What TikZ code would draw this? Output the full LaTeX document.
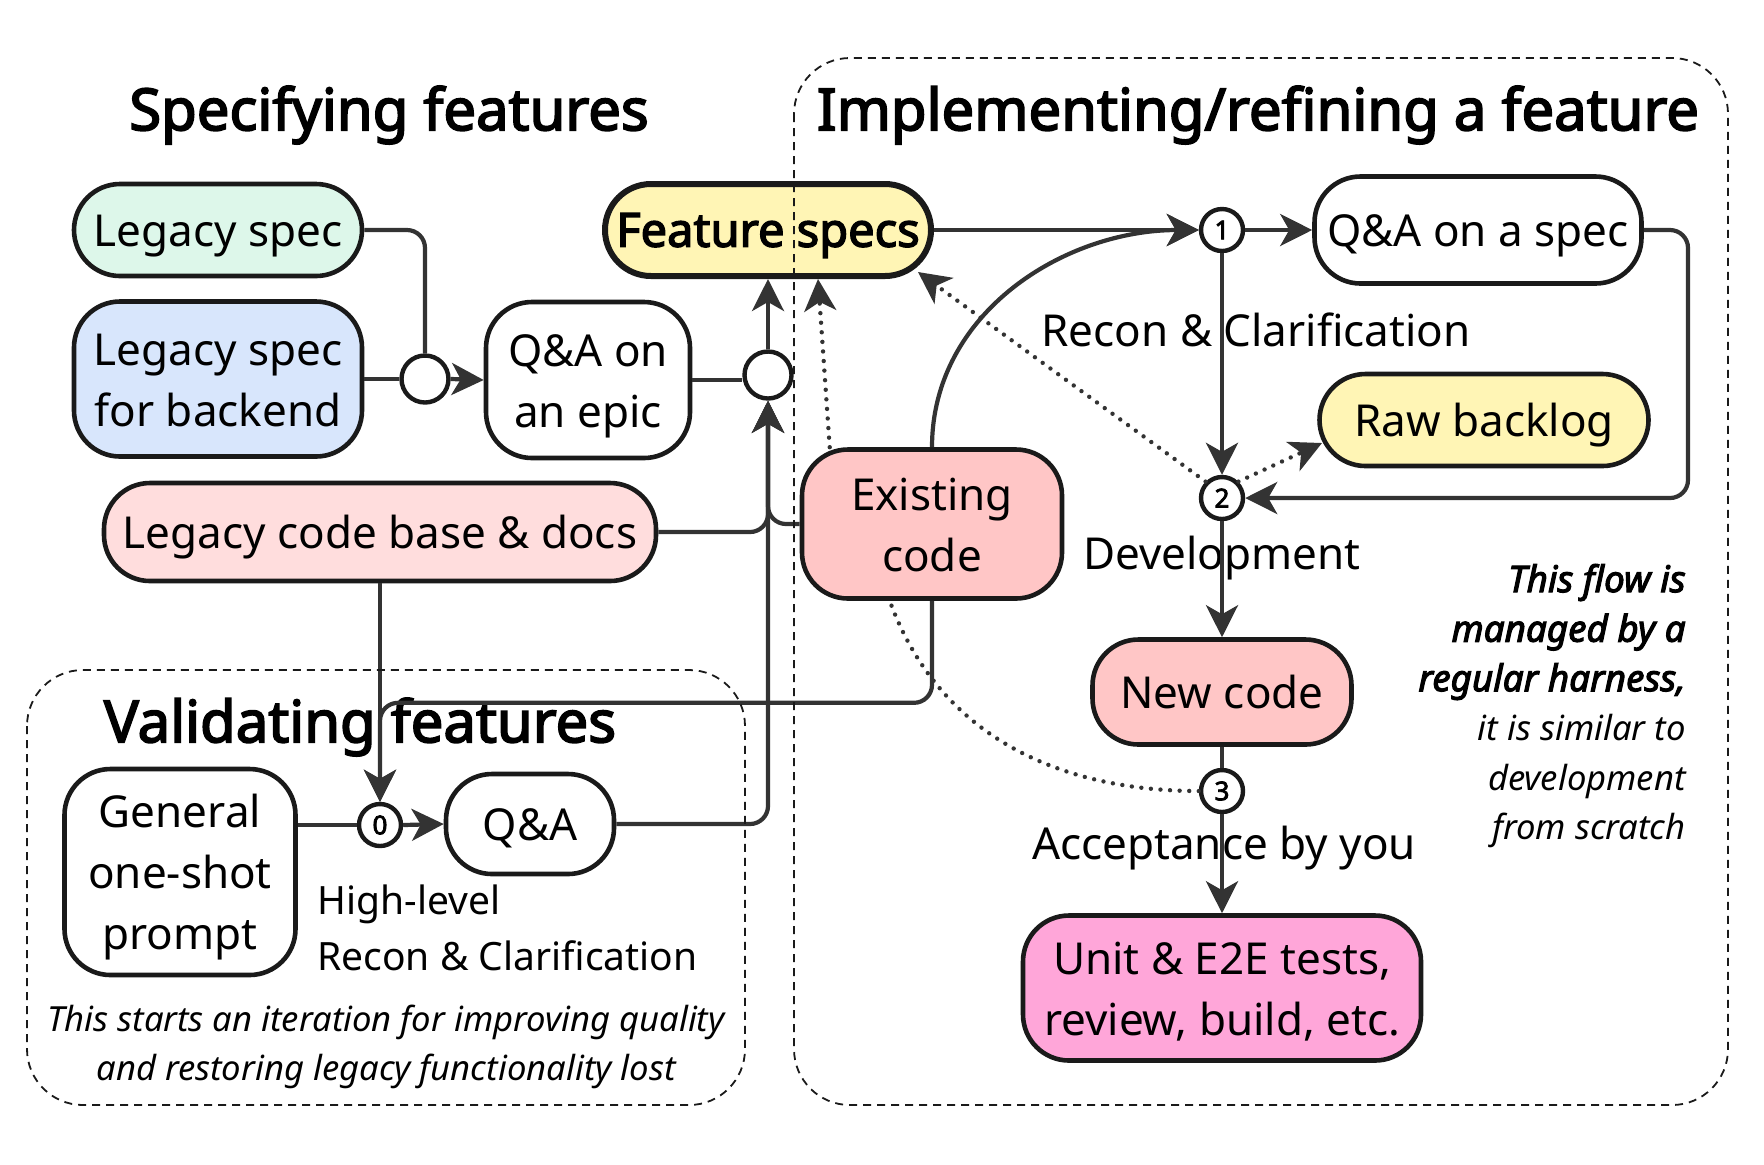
\documentclass[tikz,border=0pt]{standalone}
\usepackage{fontspec}
\setmainfont{Noto Sans}[BoldFont={Noto Sans},BoldFeatures={FakeBold=3},BoldItalicFont={Noto Sans/I},BoldItalicFeatures={FakeBold=3}]
\usetikzlibrary{arrows.meta,positioning,calc}
\definecolor{Line}{HTML}{333333}
\definecolor{Border}{HTML}{1A1A1A}
\definecolor{Mint}{HTML}{DDF7EA}
\definecolor{Sky}{HTML}{D8E6FC}
\definecolor{Butter}{HTML}{FFF5B5}
\definecolor{Blush}{HTML}{FFDDDD}
\definecolor{Salmon}{HTML}{FFC6C6}
\definecolor{Orchid}{HTML}{FFA6D9}
\newcommand\nodestrut{\rule{0pt}{22.7pt}}

\begin{document}
\begin{tikzpicture}[
 x=0.5pt,y=-0.5pt,
 strut/.style={execute at begin node={\nodestrut},execute at end node={\rule[-6pt]{0pt}{0pt}}},
 b/.style={strut,draw=Border,line width=2.3pt,rounded corners=23pt,fill=white,align=center,inner sep=0pt,font=\fontsize{22}{30.4}\selectfont},
 j/.style={circle,draw=Border,line width=2.2pt,fill=white,minimum size=23.5pt,inner sep=0pt},
 n/.style={j,minimum size=21pt,font=\bfseries\fontsize{13}{13}\selectfont},
 l/.style={line width=2.1pt,draw=Line,rounded corners=9pt},
 a/.style={l,-{Stealth[length=16pt,width=16pt,inset=4.5pt]}},
 ad/.style={a,line width=2.2pt,dash pattern=on 0pt off 4.8pt,line cap=round},
 dl/.style={l,line width=2.2pt,dash pattern=on 0pt off 4.8pt,line cap=round},
 lbl/.style={strut,font=\fontsize{22}{30.4}\selectfont,inner sep=0pt},
 ttl/.style={font=\bfseries\fontsize{29}{32}\selectfont,inner sep=0pt},
 note/.style={font=\itshape\fontsize{17.3}{24.75}\selectfont,align=center,inner sep=0pt},
 grp/.style={draw=Border,line width=0.9pt,dash pattern=on 4pt off 3pt,rounded corners=28pt}
]
\useasboundingbox (0,0) rectangle (1764,1164);
\node[ttl] (tspec) at (389,115) {Specifying features};
\node[ttl] (timpl) at (1258,115) {Implementing/refining a feature};
\node[ttl] (tval) at (360,727) {Validating features};

\node[b,fill=Mint,minimum width=144pt,minimum height=46pt] (lspec) at (218,230) {Legacy spec};
\node[b,fill=Sky,minimum width=144pt,minimum height=77.5pt] (lspecb) at (218,379) {\nodestrut Legacy spec\\for backend};
\node[j] (jl) at (425,379) {};
\node[b,minimum width=102pt,minimum height=78pt] (qaepic) at (588,380) {\nodestrut Q\&A on\\an epic};
\node[j] (jr) at (768,375) {};
\node[b,fill=Butter,line width=3pt,minimum width=163pt,minimum height=46pt,font=\bfseries\fontsize{23.5}{30.4}\selectfont] (fspecs) at (768,230) {Feature specs};
\node[b,fill=Blush,minimum width=276pt,minimum height=49pt] (lcode) at (380,532) {Legacy code base \& docs};
\node[b,fill=Salmon,minimum width=130pt,minimum height=74.5pt] (ecode) at (932,524) {\nodestrut Existing\\code};

\node[n] (c1) at (1222,230) {1};
\node[b,minimum width=163.5pt,minimum height=53.5pt] (qaspec) at (1478,230) {Q\&A on a spec};
\node[b,fill=Butter,minimum width=164.5pt,minimum height=46pt] (backlog) at (1484,420) {Raw backlog};
\node[n] (c2) at (1222,498) {2};
\node[b,fill=Salmon,minimum width=129.5pt,minimum height=52.5pt] (newcode) at (1222,692) {New code};
\node[n] (c3) at (1222,791) {3};
\node[b,fill=Orchid,minimum width=199pt,minimum height=72.5pt] (tests) at (1222,988) {\nodestrut Unit \& E2E tests,\\review, build, etc.};

\node[b,minimum width=115.5pt,minimum height=103pt] (prompt) at (180,872) {\nodestrut General\\one-shot\\prompt};
\node[n] (c0) at (380,825) {0};
\node[b,minimum width=84pt,minimum height=50pt] (qa) at (530,824) {Q\&A};

\node[lbl] (recon) at (1256,330) {Recon \& Clarification};
\node[lbl] (dev) at (1222,553) {Development};
\node[lbl] (accept) at (1224,843) {Acceptance by you};
\node[anchor=west,align=left,inner sep=0pt,font=\fontsize{19.5}{28}\selectfont] (hl) at (317,928) {High-level\\Recon \& Clarification};
\node[note] (nval) at (386,1047) {This starts an iteration for improving quality\\and restoring legacy functionality lost};
\node[note,anchor=east,align=right] (nflow) at (1686,706) {{\bfseries\fontsize{18.4}{24.75}\selectfont This flow is}\\{\bfseries\fontsize{18.4}{24.75}\selectfont managed by a}\\{\bfseries\fontsize{18.4}{24.75}\selectfont regular harness,}\\it is similar to\\development\\from scratch};

\draw[l] (lspec.east) -| (jl.north);\draw[l] (lspecb.east) -- (jl.west);\draw[a] (jl.east) -- (qaepic.west);
\draw[l] (qaepic.east) -- (qaepic.east -| jr.west);\draw[a] (jr.north) -- (fspecs.south);
\draw[a] (qa.east) -| (jr.south);\draw[a] (lcode.east) -| (jr.south);\draw[a] (ecode.west) -| (jr.south);
\draw[ad] ($(ecode.north west)+(30,0)$) -- ($(fspecs.south)+(50,0)$);
\draw[a] (fspecs.east) -- (c1.west);\draw[a] (ecode.north) to[out=90,in=180] (c1.west);
\draw[a] (c1.east) -- (qaspec.west);\draw[a] (c1.south) -- (c2.north);
\draw[a] (qaspec.east) -- (1688,230) |- (c2.east);
\draw[ad] (c2.north east) -- ($(backlog.center)+(-162,23)$);
\draw[ad] (c2.north west) -- ($(fspecs.center)+(150,42)$);
\draw[a] (c2.south) -- (newcode.north);\draw[l] (newcode.south) -- (c3.north);
\draw[dl] (c3.west) to[out=180,in=-70] ($(ecode.south west)+(90,0)$);
\draw[a] (c3.south) -- (tests.north);
\draw[a] (ecode.south) -- ++(0,102) -| (c0.north);\draw[a] (lcode.south) -- (c0.north);
\draw[l] (c0.west -| prompt.east) -- (c0.west);\draw[a] (c0.east) -- (qa.west);

\draw[grp] (794,58) rectangle (1728,1105);
\draw[grp] (27,670) rectangle (745,1105);
\end{tikzpicture}
\end{document}
